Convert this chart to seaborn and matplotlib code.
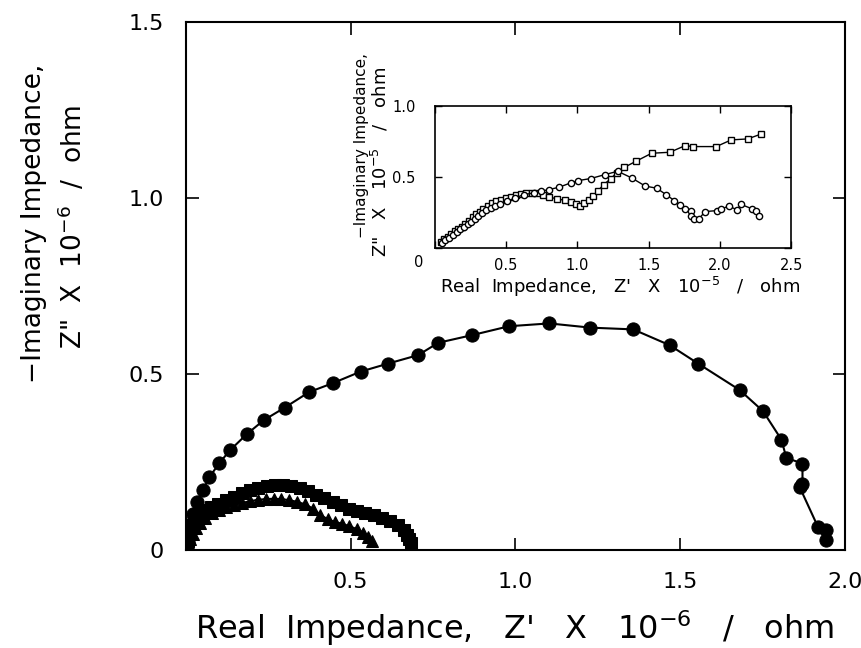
import matplotlib
matplotlib.use('Agg')
import matplotlib.pyplot as plt
import seaborn as sns

# main plot: three impedance spectra (x, y in units of 1e6 ohm)
circ_x = [0.003, 0.006, 0.010, 0.015, 0.022, 0.032, 0.051, 0.071, 0.101, 0.134, 0.184, 0.236,
          0.300, 0.374, 0.445, 0.530, 0.614, 0.705, 0.766, 0.870, 0.981, 1.103, 1.228, 1.358,
          1.469, 1.555, 1.681, 1.752, 1.808, 1.823, 1.872, 1.872, 1.863, 1.919, 1.944, 1.944]
circ_y = [0.005, 0.022, 0.045, 0.075, 0.104, 0.137, 0.170, 0.207, 0.247, 0.284, 0.329, 0.369,
          0.405, 0.449, 0.474, 0.507, 0.530, 0.554, 0.589, 0.611, 0.636, 0.644, 0.632, 0.627,
          0.582, 0.530, 0.455, 0.395, 0.314, 0.262, 0.246, 0.188, 0.180, 0.066, 0.057, 0.028]

sq_x = [0.002, 0.006, 0.012, 0.019, 0.028, 0.040, 0.055, 0.075, 0.098, 0.122, 0.146, 0.170,
        0.195, 0.220, 0.245, 0.270, 0.295, 0.320, 0.345, 0.370, 0.395, 0.420, 0.445, 0.470,
        0.495, 0.520, 0.545, 0.570, 0.595, 0.620, 0.645, 0.662, 0.672, 0.678, 0.683]
sq_y = [0.005, 0.025, 0.048, 0.068, 0.088, 0.102, 0.113, 0.123, 0.132, 0.142, 0.152, 0.162,
        0.170, 0.177, 0.182, 0.185, 0.185, 0.182, 0.176, 0.168, 0.158, 0.147, 0.137, 0.127,
        0.118, 0.111, 0.105, 0.099, 0.091, 0.082, 0.071, 0.058, 0.044, 0.031, 0.019]

tri_x = [0.002, 0.007, 0.013, 0.020, 0.030, 0.043, 0.058, 0.078, 0.100, 0.122, 0.146, 0.170,
         0.194, 0.218, 0.242, 0.266, 0.290, 0.314, 0.338, 0.362, 0.386, 0.408, 0.430, 0.452,
         0.474, 0.496, 0.518, 0.538, 0.553, 0.565]
tri_y = [0.003, 0.017, 0.032, 0.047, 0.062, 0.078, 0.092, 0.105, 0.115, 0.122, 0.128, 0.134,
         0.139, 0.143, 0.145, 0.146, 0.145, 0.142, 0.137, 0.130, 0.118, 0.100, 0.088, 0.080,
         0.075, 0.068, 0.060, 0.050, 0.038, 0.026]

# inset (units of 1e5 ohm)
in_sq_x = [0.040, 0.065, 0.090, 0.115, 0.140, 0.165, 0.190, 0.215, 0.240, 0.265, 0.290, 0.315,
           0.340, 0.370, 0.400, 0.430, 0.465, 0.500, 0.535, 0.570, 0.605, 0.640, 0.679, 0.720,
           0.760, 0.800, 0.858, 0.910, 0.955, 0.990, 1.019, 1.047, 1.080, 1.110, 1.142, 1.184,
           1.236, 1.275, 1.330, 1.412, 1.521, 1.649, 1.756, 1.812, 1.974, 2.079, 2.195, 2.290]
in_sq_y = [0.045, 0.062, 0.082, 0.100, 0.118, 0.135, 0.152, 0.172, 0.195, 0.218, 0.240, 0.258,
           0.276, 0.298, 0.315, 0.330, 0.342, 0.354, 0.364, 0.372, 0.380, 0.386, 0.390, 0.388,
           0.378, 0.360, 0.348, 0.337, 0.325, 0.310, 0.298, 0.318, 0.340, 0.368, 0.401, 0.448,
           0.491, 0.531, 0.570, 0.613, 0.669, 0.676, 0.723, 0.716, 0.716, 0.763, 0.770, 0.805]

in_ci_x = [0.050, 0.075, 0.100, 0.128, 0.155, 0.180, 0.205, 0.230, 0.255, 0.280, 0.305, 0.330,
           0.360, 0.392, 0.425, 0.460, 0.505, 0.564, 0.623, 0.693, 0.745, 0.800, 0.870, 0.953,
           1.005, 1.094, 1.195, 1.283, 1.381, 1.477, 1.556, 1.621, 1.679, 1.721, 1.756, 1.795,
           1.800, 1.819, 1.853, 1.895, 1.981, 2.009, 2.063, 2.121, 2.149, 2.226, 2.256, 2.272]
in_ci_y = [0.035, 0.055, 0.075, 0.095, 0.115, 0.132, 0.150, 0.168, 0.188, 0.208, 0.228, 0.248,
           0.268, 0.285, 0.300, 0.312, 0.330, 0.354, 0.377, 0.389, 0.401, 0.413, 0.429, 0.460,
           0.476, 0.491, 0.519, 0.542, 0.495, 0.437, 0.423, 0.378, 0.336, 0.305, 0.277, 0.261,
           0.230, 0.207, 0.207, 0.258, 0.265, 0.277, 0.296, 0.270, 0.308, 0.277, 0.261, 0.230]

main_xticks = [0, 0.5, 1.0, 1.5, 2.0]
main_xlabels = ['', '0.5', '1.0', '1.5', '2.0']
main_yticks = [0, 0.5, 1.0, 1.5]
main_ylabels = ['0', '0.5', '1.0', '1.5']
in_xticks = [0, 0.5, 1.0, 1.5, 2.0, 2.5]
in_xlabels = ['', '0.5', '1.0', '1.5', '2.0', '2.5']
in_yticks = [0, 0.5, 1.0]
in_ylabels = ['', '0.5', '1.0']

sns.set_style('ticks')
plt.rcParams['font.family'] = ['DejaVu Sans']
plt.rcParams['text.color'] = 'black'
plt.rcParams['axes.labelcolor'] = 'black'

fig = plt.figure(figsize=(8.61, 6.48), dpi=100)
ax = fig.add_axes([0.216, 0.151, 0.765, 0.815])

sns.lineplot(x=circ_x, y=circ_y, sort=False, estimator=None, color='black', lw=1.5,
             marker='o', markersize=9.5, markeredgecolor='black', ax=ax)
sns.lineplot(x=sq_x, y=sq_y, sort=False, estimator=None, color='black', lw=1.5,
             marker='s', markersize=8, markeredgecolor='black', ax=ax)
sns.lineplot(x=tri_x, y=tri_y, sort=False, estimator=None, color='black', lw=1.5,
             marker='^', markersize=8.5, markeredgecolor='black', ax=ax)

ax.set_xlim(0, 2.0)
ax.set_ylim(0, 1.5)
ax.set_xticks(main_xticks)
ax.set_xticklabels(main_xlabels)
ax.set_yticks(main_yticks)
ax.set_yticklabels(main_ylabels)
ax.tick_params(direction='in', length=9, width=1.2, top=True, right=True,
               labelsize=16, colors='black')
ax.tick_params(axis='x', pad=16)
ax.tick_params(axis='y', pad=16)
for s in ax.spines.values():
    s.set_visible(True)
    s.set_linewidth(1.5)
    s.set_color('black')

fig.text(0.598, 0.031, "Real  Impedance,   Z'   X   10$^{-6}$   /   ohm", ha='center',
         va='center', fontsize=23)
fig.text(0.04, 0.655, "\u2212Imaginary Impedance,", rotation=90, ha='center', va='center',
         fontsize=19)
fig.text(0.085, 0.65, 'Z"  X  10$^{-6}$  /  ohm', rotation=90, ha='center', va='center',
         fontsize=19)

# inset
ax2 = fig.add_axes([0.505, 0.617, 0.414, 0.219])
sns.lineplot(x=in_sq_x, y=in_sq_y, sort=False, estimator=None, color='black', lw=1.0,
             marker='s', markersize=4, markerfacecolor='white', markeredgecolor='black',
             markeredgewidth=1.0, ax=ax2)
sns.lineplot(x=in_ci_x, y=in_ci_y, sort=False, estimator=None, color='black', lw=1.0,
             marker='o', markersize=4.5, markerfacecolor='white', markeredgecolor='black',
             markeredgewidth=1.0, ax=ax2)
ax2.set_xlim(0, 2.5)
ax2.set_ylim(0, 1.0)
ax2.set_xticks(in_xticks)
ax2.set_xticklabels(in_xlabels)
ax2.set_yticks(in_yticks)
ax2.set_yticklabels(in_ylabels)
ax2.tick_params(direction='in', length=5, width=1.0, top=True, right=True,
                labelsize=10.5, colors='black')
ax2.tick_params(axis='x', pad=7)
ax2.tick_params(axis='y', pad=14)
for s in ax2.spines.values():
    s.set_visible(True)
    s.set_linewidth(1.2)
    s.set_color('black')
ax2.text(-0.045, -0.1, '0', transform=ax2.transAxes, ha='center', va='center', fontsize=10.5)

fig.text(0.72, 0.557, "Real  Impedance,   Z'   X   10$^{-5}$   /   ohm", ha='center',
         va='center', fontsize=13)
fig.text(0.42, 0.776, "\u2212Imaginary Impedance,", rotation=90, ha='center', va='center',
         fontsize=11)
fig.text(0.441, 0.75, 'Z"   X   10$^{-5}$   /   ohm', rotation=90, ha='center', va='center',
         fontsize=13)

fig.savefig('out.png', dpi=100)
